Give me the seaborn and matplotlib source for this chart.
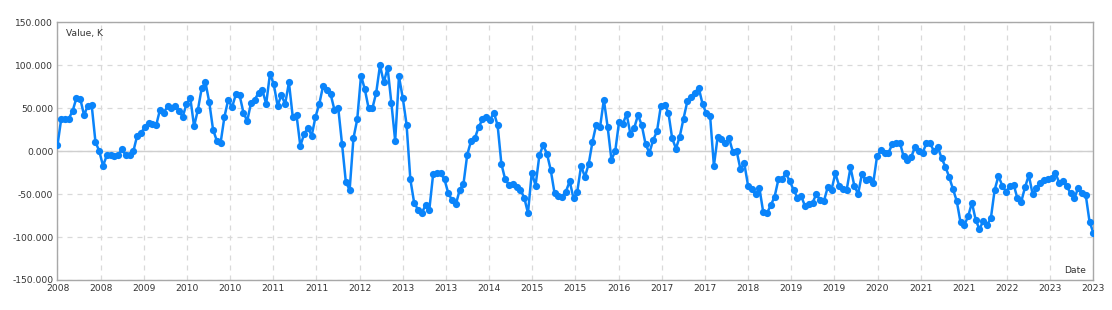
import matplotlib
matplotlib.use("Agg")
import matplotlib.pyplot as plt
import seaborn as sns
import numpy as np
import pandas as pd

# ---- data ----
start_date = "2008-01-18"
end_date = "2023-10-08"
values = [
    7, 38, 37, 38, 47, 62, 61, 42, 53, 54,
    11, 0, -17, -5, -5, -6, -4, 2, -5, -4,
    0, 18, 21, 28, 33, 32, 30, 48, 45, 52,
    50, 53, 47, 40, 55, 62, 29, 48, 73, 80,
    57, 25, 12, 10, 40, 60, 51, 66, 65, 45,
    35, 56, 60, 68, 71, 55, 90, 78, 53, 65,
    55, 80, 40, 42, 6, 20, 27, 18, 40, 55,
    76, 71, 66, 48, 50, 8, -36, -45, 15, 37,
    88, 72, 50, 50, 68,
    100, 80, 97, 56, 12,
    87, 62, 31, -33, -60, -68, -72, -63, -68, -27,
    -25, -26, -33, -49, -57, -62, -45, -38, -4, 12,
    15, 28, 37, 40, 36, 45, 30, -15, -33, -39,
    -38, -42, -45, -54, -72, -25, -40, -5, 7, -3,
    -22, -49, -52, -53, -47, -35, -55, -47, -17, -30,
    -15, 11, 31, 28, 60, 28, -10, 0, 34, 32,
    43, 20, 27, 42, 30, 8, -2, 13, 23, 52,
    54, 45, 15, 3, 17, 38, 58, 63, 68, 74,
    55, 44, 41, -17, 17, 14, 9, 15, -1, 0,
    -21, -14, -40, -44, -50, -43, -71, -72, -63, -53,
    -33, -32, -26, -35, -45, -54, -52, -64, -61, -60,
    -50, -57, -58, -42, -45, -26, -40, -44, -45, -19,
    -40, -50, -27, -34, -33, -37, -6, 1, -2, -2,
    8, 10, 10, -6, -10, -7, 5, 0, -2, 9,
    9, 0, 5, -8, -18, -30, -44, -58, -83, -86,
    -76, -60, -80, -91, -81, -86, -78, -45, -29, -40,
    -47, -41, -39, -55, -59, -42, -28, -50, -43, -37,
    -34, -33, -31, -25, -37, -35, -41, -49, -55, -43,
    -49, -51, -82, -95,
]
x_tick_labels = ["2008", "2008", "2009", "2010", "2010", "2011", "2011", "2012",
                 "2013", "2013", "2014", "2015", "2015", "2016", "2017", "2017",
                 "2018", "2019", "2019", "2020", "2021", "2021", "2022", "2023", "2023"]
y_ticks = [-150, -100, -50, 0, 50, 100, 150]
y_label = "Value, K"
x_label = "Date"

dates = pd.date_range(start_date, end_date, periods=len(values))
df = pd.DataFrame({"Date": dates, "Value": values})

sns.set_style("white")
plt.rcParams["font.family"] = ["DejaVu Sans"]

fig = plt.figure(figsize=(11.12, 3.10), dpi=100)
ax = fig.add_axes([0.0517, 0.0968, 0.9315, 0.8312])

line_color = "#0a84fa"
sns.lineplot(data=df, x="Date", y="Value", ax=ax, color=line_color,
             linewidth=1.8, marker="o", markersize=5.2, markeredgewidth=0,
             markerfacecolor=line_color, zorder=3)

ax.set_xlim(dates[0], dates[-1])
ax.set_ylim(-150, 150)

# x ticks evenly spaced over the date range
xt = np.linspace(matplotlib.dates.date2num(dates[0]),
                 matplotlib.dates.date2num(dates[-1]), len(x_tick_labels))
ax.set_xticks(xt)
ax.set_xticklabels(x_tick_labels)
ax.set_yticks(y_ticks)
ax.set_yticklabels([f"{v:.3f}" for v in y_ticks])

ax.tick_params(axis="both", length=0, labelsize=6.6, colors="#333333", pad=3)
ax.set_xlabel("")
ax.set_ylabel("")

# grid
ax.grid(True, color="#d9d9d9", linestyle=(0, (4, 4)), linewidth=0.9, zorder=0)
ax.axhline(0, color="#cfcfcf", linewidth=1.0, zorder=1)

for s in ax.spines.values():
    s.set_color("#a8a8a8")
    s.set_linewidth(1.0)

ax.text(0.008, 0.975, y_label, transform=ax.transAxes, ha="left", va="top",
        fontsize=6.6, color="#333333")
ax.text(0.993, 0.02, x_label, transform=ax.transAxes, ha="right", va="bottom",
        fontsize=6.6, color="#333333")

fig.savefig("out.png", dpi=100)
